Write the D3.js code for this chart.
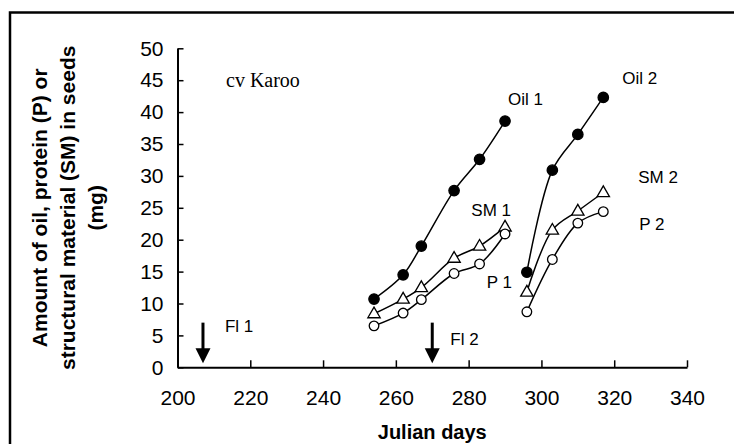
<!DOCTYPE html>
<html>
<head>
<meta charset="utf-8">
<script src="https://cdn.jsdelivr.net/npm/d3@7"></script>
<style>
	body { margin: 0; background: #fff; }
	svg { display: block; }
	text { font-family: "Liberation Sans", Arial, sans-serif; fill: #000; }
	.axis path, .axis line { stroke: #000; }
	.axis path { stroke-width: 2; }
	.axis line { stroke-width: 1.5; }
	.axis text { font-size: 21px; }
	.series-line { fill: none; stroke: #000; stroke-width: 1.5; }
</style>
</head>
<body>
<svg id="chart" width="734" height="444"></svg>
<script>
// values (Julian day vs mg per seed)
var days1 = [254, 262, 267, 276, 283, 290];
var oil1 = [10.7, 14.5, 19.0, 27.7, 32.6, 38.6];
var sm1 = [8.4, 10.7, 12.5, 17.1, 19.0, 22.0];
var p1 = [6.5, 8.5, 10.6, 14.7, 16.2, 20.9];

var days2 = [296, 303, 310, 317];
var oil2 = [14.9, 30.9, 36.5, 42.3];
var sm2 = [11.8, 21.5, 24.5, 27.4];
var p2 = [8.7, 16.9, 22.6, 24.4];

var xTicks = [200, 220, 240, 260, 280, 300, 320, 340];
var yTicks = [0, 5, 10, 15, 20, 25, 30, 35, 40, 45, 50];

var flowerLabels = ["Fl 1", "Fl 2"];
var flowerDays = [207, 270];
var flowerTop = 7;

var svg = d3.select("#chart");

var x = d3.scaleLinear().domain([200, 340]).range([177.5, 687]);
var y = d3.scaleLinear().domain([0, 50]).range([367.3, 48.3]);

// outer frame, runs off the right and bottom edge like the scan
svg.append("rect")
	.attr("x", 10).attr("y", 12.5)
	.attr("width", 760).attr("height", 460)
	.attr("fill", "none")
	.attr("stroke", "#000")
	.attr("stroke-width", 2.5);

var series = [
	{ name: "Oil 1", days: days1, vals: oil1, mark: "dot", dx: 3, dy: -16, anchor: "start" },
	{ name: "SM 1", days: days1, vals: sm1, mark: "tri", dx: 6, dy: -11, anchor: "end" },
	{ name: "P 1", days: days1, vals: p1, mark: "ring", dx: 7, dy: 54, anchor: "end" },
	{ name: "Oil 2", days: days2, vals: oil2, mark: "dot", dx: 19, dy: -13, anchor: "start" },
	{ name: "SM 2", days: days2, vals: sm2, mark: "tri", dx: 35, dy: -9, anchor: "start" },
	{ name: "P 2", days: days2, vals: p2, mark: "ring", dx: 36, dy: 18, anchor: "start" }
];

// axes
svg.append("g")
	.attr("class", "axis")
	.attr("transform", "translate(0," + y(0) + ")")
	.call(d3.axisBottom(x).tickValues(xTicks).tickSizeInner(-7).tickSizeOuter(0).tickPadding(23));

svg.append("g")
	.attr("class", "axis")
	.attr("transform", "translate(" + x(200) + ",0)")
	.call(d3.axisLeft(y).tickValues(yTicks).tickSizeInner(-6).tickSizeOuter(0).tickPadding(14));

svg.append("text")
	.attr("x", (x(200) + x(340)) / 2)
	.attr("y", 439)
	.attr("text-anchor", "middle")
	.style("font-size", "20px")
	.style("font-weight", "bold")
	.text("Julian days");

var ytitle = svg.append("text")
	.attr("transform", "translate(47," + ((y(0) + y(50)) / 2) + ") rotate(-90)")
	.attr("text-anchor", "middle")
	.style("font-size", "21px")
	.style("font-weight", "bold");
["Amount of oil, protein (P) or", "structural material (SM) in seeds", "(mg)"].forEach(function(t, i){
	ytitle.append("tspan")
		.attr("x", 0)
		.attr("y", i * 28)
		.text(t);
});

svg.append("text")
	.attr("x", 226)
	.attr("y", 86.5)
	.style("font-family", "'Liberation Serif', 'Times New Roman', serif")
	.style("font-size", "20px")
	.text("cv Karoo");

// lines + markers
var line = d3.line()
	.x(function(d){ return x(d[0]); })
	.y(function(d){ return y(d[1]); })
	.curve(d3.curveCatmullRom.alpha(0.5));

var tri = d3.symbol().type(d3.symbolTriangle).size(66);

series.forEach(function(s){
	var pts = s.days.map(function(d, i){ return [d, s.vals[i]]; });
	var g = svg.append("g");
	g.append("path")
		.attr("class", "series-line")
		.attr("d", line(pts));

	if (s.mark === "tri") {
		g.selectAll("path.m").data(pts).enter().append("path")
			.attr("class", "m")
			.attr("d", tri)
			.attr("transform", function(d){ return "translate(" + x(d[0]) + "," + (y(d[1]) + 0.5) + ")"; })
			.attr("fill", "#fff")
			.attr("stroke", "#000")
			.attr("stroke-width", 1.3);
	} else {
		g.selectAll("circle").data(pts).enter().append("circle")
			.attr("cx", function(d){ return x(d[0]); })
			.attr("cy", function(d){ return y(d[1]); })
			.attr("r", s.mark === "dot" ? 5.2 : 4.8)
			.attr("fill", s.mark === "dot" ? "#000" : "#fff")
			.attr("stroke", "#000")
			.attr("stroke-width", 1.3);
	}

	var last = pts[pts.length - 1];
	svg.append("text")
		.attr("x", x(last[0]) + s.dx)
		.attr("y", y(last[1]) + s.dy)
		.attr("text-anchor", s.anchor)
		.style("font-size", "17px")
		.text(s.name);
});

// flowering arrows
flowerDays.forEach(function(d, i){
	var ax = x(d);
	var top = y(flowerTop);
	var tip = y(0) - 4;
	svg.append("line")
		.attr("x1", ax).attr("x2", ax)
		.attr("y1", top).attr("y2", tip - 12)
		.attr("stroke", "#000")
		.attr("stroke-width", 3);
	svg.append("path")
		.attr("d", "M" + (ax - 7.5) + "," + (tip - 15) + "L" + (ax + 7.5) + "," + (tip - 15) + "L" + ax + "," + tip + "Z")
		.attr("fill", "#000");
	svg.append("text")
		.attr("x", ax + (i === 0 ? 22 : 18))
		.attr("y", i === 0 ? 331.5 : 344.5)
		.style("font-size", "17px")
		.text(flowerLabels[i]);
});
</script>
</body>
</html>
